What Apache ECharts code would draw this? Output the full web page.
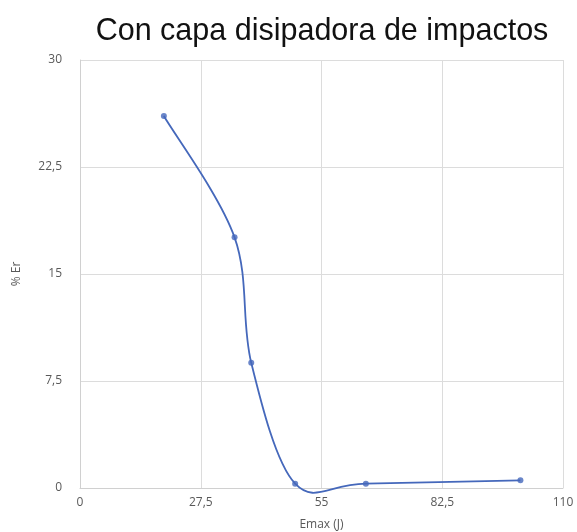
<!DOCTYPE html>
<html>
<head>
<meta charset="utf-8">
<script src="https://cdn.jsdelivr.net/npm/echarts@6/dist/echarts.min.js"></script>
<style>
html, body { margin: 0; padding: 0; background: #fff; }
#chart { width: 577px; height: 532px; }
</style>
</head>
<body>
<div id="chart"></div>
<script>
// Emax (J) vs % Er
const emax = [19.1, 35.2, 39.0, 49.0, 65.1, 100.3];
const er = [26.07, 17.57, 8.78, 0.3, 0.3, 0.54];

const lineColor = '#4568bb';
const comma = v => String(v).replace('.', ',');
const points = emax.map((x, i) => [x, er[i]]);

// smooth curve like the spreadsheet one (Catmull-Rom), built from the axis coords
function renderCurve(params, api) {
    if (params.dataIndex !== 0) return null;
    const p = points.map(d => api.coord(d));
    let path = 'M' + p[0][0] + ' ' + p[0][1];
    for (let i = 0; i < p.length - 1; i++) {
        const p0 = p[i - 1] || p[i];
        const p1 = p[i];
        const p2 = p[i + 1];
        const p3 = p[i + 2] || p2;
        const c1 = [p1[0] + (p2[0] - p0[0]) / 6, p1[1] + (p2[1] - p0[1]) / 6];
        const c2 = [p2[0] - (p3[0] - p1[0]) / 6, p2[1] - (p3[1] - p1[1]) / 6];
        path += ' C' + c1.join(' ') + ' ' + c2.join(' ') + ' ' + p2.join(' ');
    }
    return {
        type: 'path',
        shape: { pathData: path },
        style: { fill: null, stroke: lineColor, lineWidth: 1.8 }
    };
}

const chart = echarts.init(document.getElementById('chart'));
chart.setOption({
    animation: false,
    title: {
        text: 'Con capa disipadora de impactos',
        left: 317,
        textAlign: 'center',
        top: 11,
        textStyle: {
            fontFamily: 'Liberation Sans',
            fontSize: 30.5,
            fontWeight: 'normal',
            color: '#111'
        }
    },
    grid: { left: 80, right: 14, top: 60, bottom: 44, outerBoundsMode: 'none' },
    xAxis: {
        type: 'value',
        min: 0, max: 110, interval: 27.5,
        name: 'Emax (J)',
        nameLocation: 'middle',
        nameGap: 31,
        nameTextStyle: { fontFamily: 'Open Sans', fontSize: 12, color: '#595959' },
        axisLine: { lineStyle: { color: '#d0d0d0', width: 1 } },
        axisTick: { show: false },
        axisLabel: { formatter: comma, fontFamily: 'Open Sans', fontSize: 12, color: '#595959', margin: 9 },
        splitLine: { show: true, lineStyle: { color: '#dcdcdc', width: 1 } }
    },
    yAxis: {
        type: 'value',
        min: 0, max: 30, interval: 7.5,
        name: '% Er',
        nameLocation: 'middle',
        nameGap: 57,
        nameTextStyle: { fontFamily: 'Open Sans', fontSize: 12, color: '#595959' },
        axisLine: { show: true, lineStyle: { color: '#d0d0d0', width: 1 } },
        axisTick: { show: false },
        axisLabel: { formatter: comma, fontFamily: 'Open Sans', fontSize: 12, color: '#595959', margin: 18 },
        splitLine: { show: true, lineStyle: { color: '#dcdcdc', width: 1 } }
    },
    series: [{
        type: 'custom',
        renderItem: renderCurve,
        data: points,
        clip: false,
        z: 2
    }, {
        type: 'scatter',
        data: points,
        symbol: 'circle',
        symbolSize: 6,
        itemStyle: { color: lineColor },
        z: 3
    }]
});
</script>
</body>
</html>
